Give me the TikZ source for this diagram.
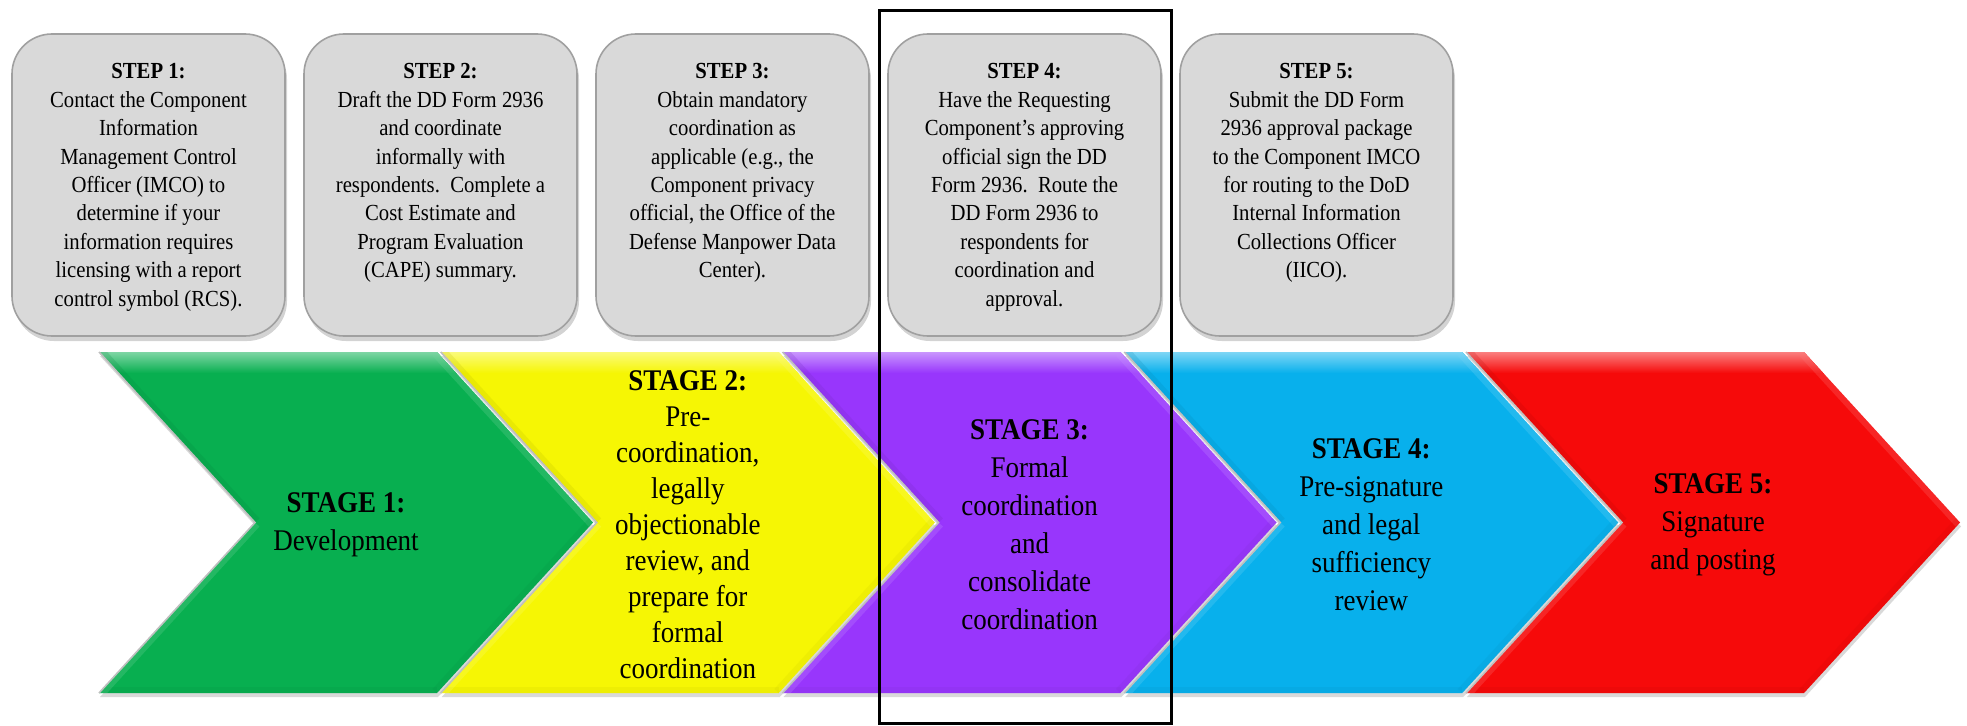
\documentclass[tikz,border=0pt]{standalone}
\usepackage{fontspec}
\setmainfont{Liberation Serif}[FakeStretch=0.9]
\usetikzlibrary{positioning,shadows}
\definecolor{StageGreen}{RGB}{8,175,80}
\definecolor{StageYellow}{RGB}{246,246,4}
\definecolor{StagePurple}{RGB}{152,54,252}
\definecolor{StageCyan}{RGB}{8,176,236}
\definecolor{StageRed}{RGB}{246,10,10}
\definecolor{StepGrey}{RGB}{217,217,217}
\definecolor{StepEdge}{RGB}{160,160,160}

% one arrow of the process band, #1 = left edge
\newcommand{\stagechevron}[1]{(#1,373) -- ++(338,0) -- ++(156,-170.5) -- ++(-156,-170.5) -- ++(-338,0) -- ++(156,170.5) -- cycle}

\tikzset{
  stepbox/.style={draw=StepEdge, fill=StepGrey, line width=0.8pt, rounded corners=20pt,
    minimum width=136.5pt, minimum height=151pt,
    drop shadow={shadow xshift=1pt, shadow yshift=-2.5pt, opacity=0.35}},
  steptext/.style={align=center, inner sep=0pt, font=\fontsize{11.5}{14.2}\selectfont},
  stagetext/.style={align=center, inner sep=0pt, font=\fontsize{15}{19}\selectfont},
}

\begin{document}
\begin{tikzpicture}[x=0.5pt,y=0.5pt]
  \useasboundingbox (0,0) rectangle (1967,725);

  % stages
  \foreach \s/\col in {99/StageGreen, 440.75/StageYellow, 782.5/StagePurple, 1124.25/StageCyan, 1466/StageRed}{
    \path[fill=\col, drop shadow={shadow xshift=0.5pt, shadow yshift=-2pt, opacity=0.3}] \stagechevron{\s};
    \begin{scope}
      \clip \stagechevron{\s};
      % soft bevel along the edges
      \shade[top color=\col!50!white, bottom color=\col] (\s,374) rectangle (\s+494,352);
      \draw[line width=6pt, \col!55!white, opacity=0.25] (\s+338,373) -- ++(156,-170.5);
      \draw[line width=6pt, \col!80!black, opacity=0.15] (\s+494,202.5) -- ++(-156,-170.5);
      \draw[line width=6pt, \col!80!black, opacity=0.15] (\s,32) -- ++(338,0);
      \draw[line width=6pt, \col!55!white, opacity=0.25] (\s,32) -- ++(156,170.5);
      \draw[line width=6pt, \col!75!black, opacity=0.2] (\s+156,202.5) -- ++(-156,170.5);
    \end{scope}
    \draw[white!75!black, line width=0.8pt] (\s,373) -- ++(156,-170.5) -- ++(-156,-170.5);
  }

  \node[stagetext] (stage1) at (346,200) {\textbf{STAGE 1:}\\Development};
  \node[stagetext, font=\fontsize{15}{18}\selectfont] (stage2) at (687.75,200)
    {\textbf{STAGE 2:}\\Pre-\\coordination,\\legally\\objectionable\\review, and\\prepare for\\formal\\coordination};
  \node[stagetext] (stage3) at (1029.5,200)
    {\textbf{STAGE 3:}\\Formal\\coordination\\and\\consolidate\\coordination};
  \node[stagetext] (stage4) at (1371.25,200)
    {\textbf{STAGE 4:}\\Pre-signature\\and legal\\sufficiency\\review};
  \node[stagetext] (stage5) at (1713,200) {\textbf{STAGE 5:}\\Signature\\and posting};

  % steps
  \node[stepbox] (step1) at (148.5,540) {};
  \node[stepbox] (step2) at (440.5,540) {};
  \node[stepbox] (step3) at (732.5,540) {};
  \node[stepbox] (step4) at (1024.5,540) {};
  \node[stepbox] (step5) at (1316.5,540) {};

  \node[steptext, below=15pt of step1.north] (text1)
    {\textbf{STEP 1:}\\Contact the Component\\Information\\Management Control\\Officer (IMCO) to\\determine if your\\information requires\\licensing with a report\\control symbol (RCS).};
  \node[steptext, below=15pt of step2.north] (text2)
    {\textbf{STEP 2:}\\Draft the DD Form 2936\\and coordinate\\informally with\\respondents.\ \ Complete a\\Cost Estimate and\\Program Evaluation\\(CAPE) summary.};
  \node[steptext, below=15pt of step3.north] (text3)
    {\textbf{STEP 3:}\\Obtain mandatory\\coordination as\\applicable (e.g., the\\Component privacy\\official, the Office of the\\Defense Manpower Data\\Center).};
  \node[steptext, below=15pt of step4.north] (text4)
    {\textbf{STEP 4:}\\Have the Requesting\\Component’s approving\\official sign the DD\\Form 2936.\ \ Route the\\DD Form 2936 to\\respondents for\\coordination and\\approval.};
  \node[steptext, below=15pt of step5.north] (text5)
    {\textbf{STEP 5:}\\Submit the DD Form\\2936 approval package\\to the Component IMCO\\for routing to the DoD\\Internal Information\\Collections Officer\\(IICO).};

  % current stage
  \draw[line width=1.5pt] (879,714) rectangle (1171,2);
\end{tikzpicture}
\end{document}
